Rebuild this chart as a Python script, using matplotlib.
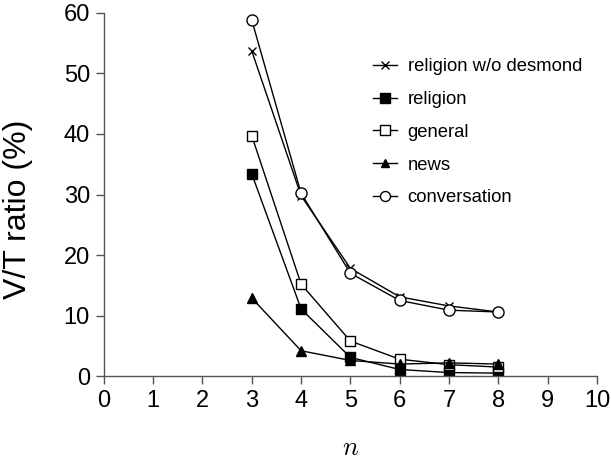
import matplotlib
matplotlib.use("Agg")
import matplotlib.pyplot as plt

plt.rcParams['font.family'] = ['Liberation Sans', 'DejaVu Sans']
plt.rcParams['mathtext.fontset'] = 'cm'

n = [3, 4, 5, 6, 7, 8]
religion_wo = [53.7, 29.8, 17.8, 13.1, 11.6, 10.6]
religion = [33.4, 11.1, 3.1, 1.1, 0.6, 0.5]
general = [39.7, 15.2, 5.8, 2.8, 1.9, 1.5]
news = [12.9, 4.2, 2.6, 2.0, 2.2, 2.0]
conversation = [58.8, 30.2, 17.0, 12.5, 10.9, 10.6]

series = [
    ("religion w/o desmond", religion_wo, dict(marker='x', mfc='black', ms=6, mew=1.0)),
    ("religion", religion, dict(marker='s', mfc='black', ms=7.5)),
    ("general", general, dict(marker='s', mfc='white', ms=7.5)),
    ("news", news, dict(marker='^', mfc='black', ms=7)),
    ("conversation", conversation, dict(marker='o', mfc='white', ms=8)),
]

fig = plt.figure(figsize=(6.11, 4.61), dpi=100)
ax = fig.add_axes([0.170, 0.184, 0.807, 0.788])

for label, vals, st in series:
    ax.plot(n, vals, color='black', lw=1.0, mec='black', label=label, **st)

ax.set_xlim(0, 10)
ax.set_ylim(0, 60)
ax.set_xticks(range(0, 11))
ax.set_yticks(range(0, 61, 10))
for s in ['top', 'right']:
    ax.spines[s].set_visible(False)
for s in ['left', 'bottom']:
    ax.spines[s].set_color('#555555')
    ax.spines[s].set_linewidth(1.0)
ax.tick_params(axis='both', labelsize=17, colors='#555555', labelcolor='black', length=6, width=1.0, pad=4)
ax.set_ylabel('V/T ratio (%)', fontsize=23)
ax.yaxis.set_label_coords(-0.144, 0.46)
ax.set_xlabel('$n$', fontsize=19, labelpad=17)

ax.legend(loc='upper left', bbox_to_anchor=(0.53, 0.895), frameon=False, fontsize=13.3,
          handlelength=1.3, handletextpad=0.6, labelspacing=0.85, borderaxespad=0,
          markerscale=0.9)

fig.savefig('out.png', dpi=100)
